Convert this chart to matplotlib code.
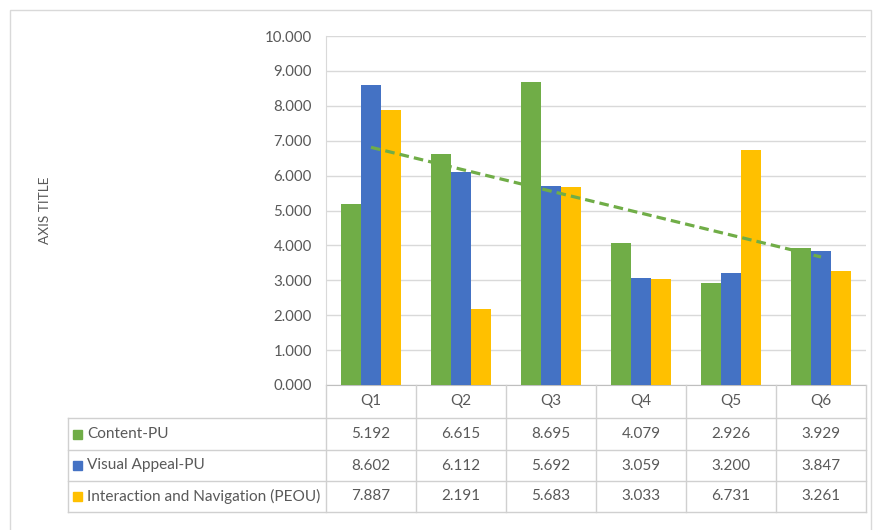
import numpy as np
import matplotlib
matplotlib.use("Agg")
import matplotlib.pyplot as plt
from matplotlib.patches import Rectangle

plt.rcParams['font.family'] = ['Lato', 'DejaVu Sans']

# data
categories = ['Q1', 'Q2', 'Q3', 'Q4', 'Q5', 'Q6']
series_names = ['Content-PU', 'Visual Appeal-PU', 'Interaction and Navigation (PEOU)']
content_pu = [5.192, 6.615, 8.695, 4.079, 2.926, 3.929]
visual_appeal_pu = [8.602, 6.112, 5.692, 3.059, 3.200, 3.847]
interaction_peou = [7.887, 2.191, 5.683, 3.033, 6.731, 3.261]
y_ticks = [0, 1, 2, 3, 4, 5, 6, 7, 8, 9, 10]

colors = ['#70AD47', '#4472C4', '#FFC000']
grid_col = '#D9D9D9'
text_col = '#595959'

W, H = 873, 530
fig = plt.figure(figsize=(W / 100, H / 100), dpi=100)

def fbox(x0, y0, x1, y1):
    # pixel box (top-left origin) -> figure fraction [l, b, w, h]
    return [x0 / W, 1 - y1 / H, (x1 - x0) / W, (y1 - y0) / H]

# outer chart border
fig.patches.append(Rectangle((10 / W, -0.05), (861) / W, 1.05 - 10 / H,
                             transform=fig.transFigure, fill=False,
                             edgecolor='#D9D9D9', linewidth=1))

# ---- plot area ----
px0, px1, py0, py1 = 326, 866, 36, 385
ax = fig.add_axes(fbox(px0, py0, px1, py1))
x = np.arange(len(categories))
bw = 0.219
all_series = [content_pu, visual_appeal_pu, interaction_peou]
for i, vals in enumerate(all_series):
    ax.bar(x + (i - 1) * bw, vals, width=bw, color=colors[i], zorder=3)

# linear trendline for Content-PU
k, b = np.polyfit(x, content_pu, 1)
ax.plot(x, k * x + b, linestyle=(0, (3, 1.6)), color=colors[0], linewidth=2.3, zorder=4)

ax.set_xlim(-0.5, len(categories) - 0.5)
ax.set_ylim(0, 10)
ax.set_yticks(y_ticks)
ax.set_yticklabels(['%.3f' % v for v in y_ticks], fontsize=10.8, color=text_col)
ax.set_xticks([])
ax.tick_params(axis='y', length=0, pad=10)
ax.grid(axis='y', color=grid_col, linewidth=1, zorder=0)
for s in ['top', 'right']:
    ax.spines[s].set_visible(False)
ax.spines['left'].set_color(grid_col)
ax.spines['bottom'].set_color('#BFBFBF')
ax.set_ylabel('AXIS TITLE', fontsize=9.8, color=text_col, labelpad=0)
ax.yaxis.set_label_coords(-(px0 - 51) / (px1 - px0), 0.5)

# ---- data table ----
tx0 = 68
unit = (px1 - px0) / len(categories)
left_units = (px0 - tx0) / unit
tab = fig.add_axes(fbox(tx0, 385, px1, 512))
tab.set_xlim(-0.5 - left_units, len(categories) - 0.5)
tab.set_ylim(127, 0)
tab.axis('off')
rows = [0, 33, 65, 96, 127]
lc = '#D0D0D0'
# horizontal lines
for r in rows[1:]:
    tab.plot([-0.5 - left_units, len(categories) - 0.5], [r, r], color=lc, lw=1, clip_on=False)
# vertical lines
tab.plot([-0.5 - left_units] * 2, [rows[1], rows[-1]], color=lc, lw=1, clip_on=False)
for c in range(len(categories) + 1):
    tab.plot([c - 0.5] * 2, [rows[0], rows[-1]], color=lc, lw=1, clip_on=False)

for c, cat in enumerate(categories):
    tab.text(c, (rows[0] + rows[1]) / 2, cat, ha='center', va='center',
             fontsize=11, color=text_col)
for r, (name, vals) in enumerate(zip(series_names, all_series)):
    yc = (rows[r + 1] + rows[r + 2]) / 2
    tab.add_patch(Rectangle((-0.5 - left_units + 5 / unit, yc - 4.5), 9 / unit, 9,
                            color=colors[r], clip_on=False))
    tab.text(-0.5 - left_units + 19 / unit, yc, name, ha='left', va='center',
             fontsize=11.1, color=text_col)
    for c, v in enumerate(vals):
        tab.text(c, yc, '%.3f' % v, ha='center', va='center', fontsize=11, color=text_col)

fig.savefig('out.png', dpi=100, facecolor='white')
